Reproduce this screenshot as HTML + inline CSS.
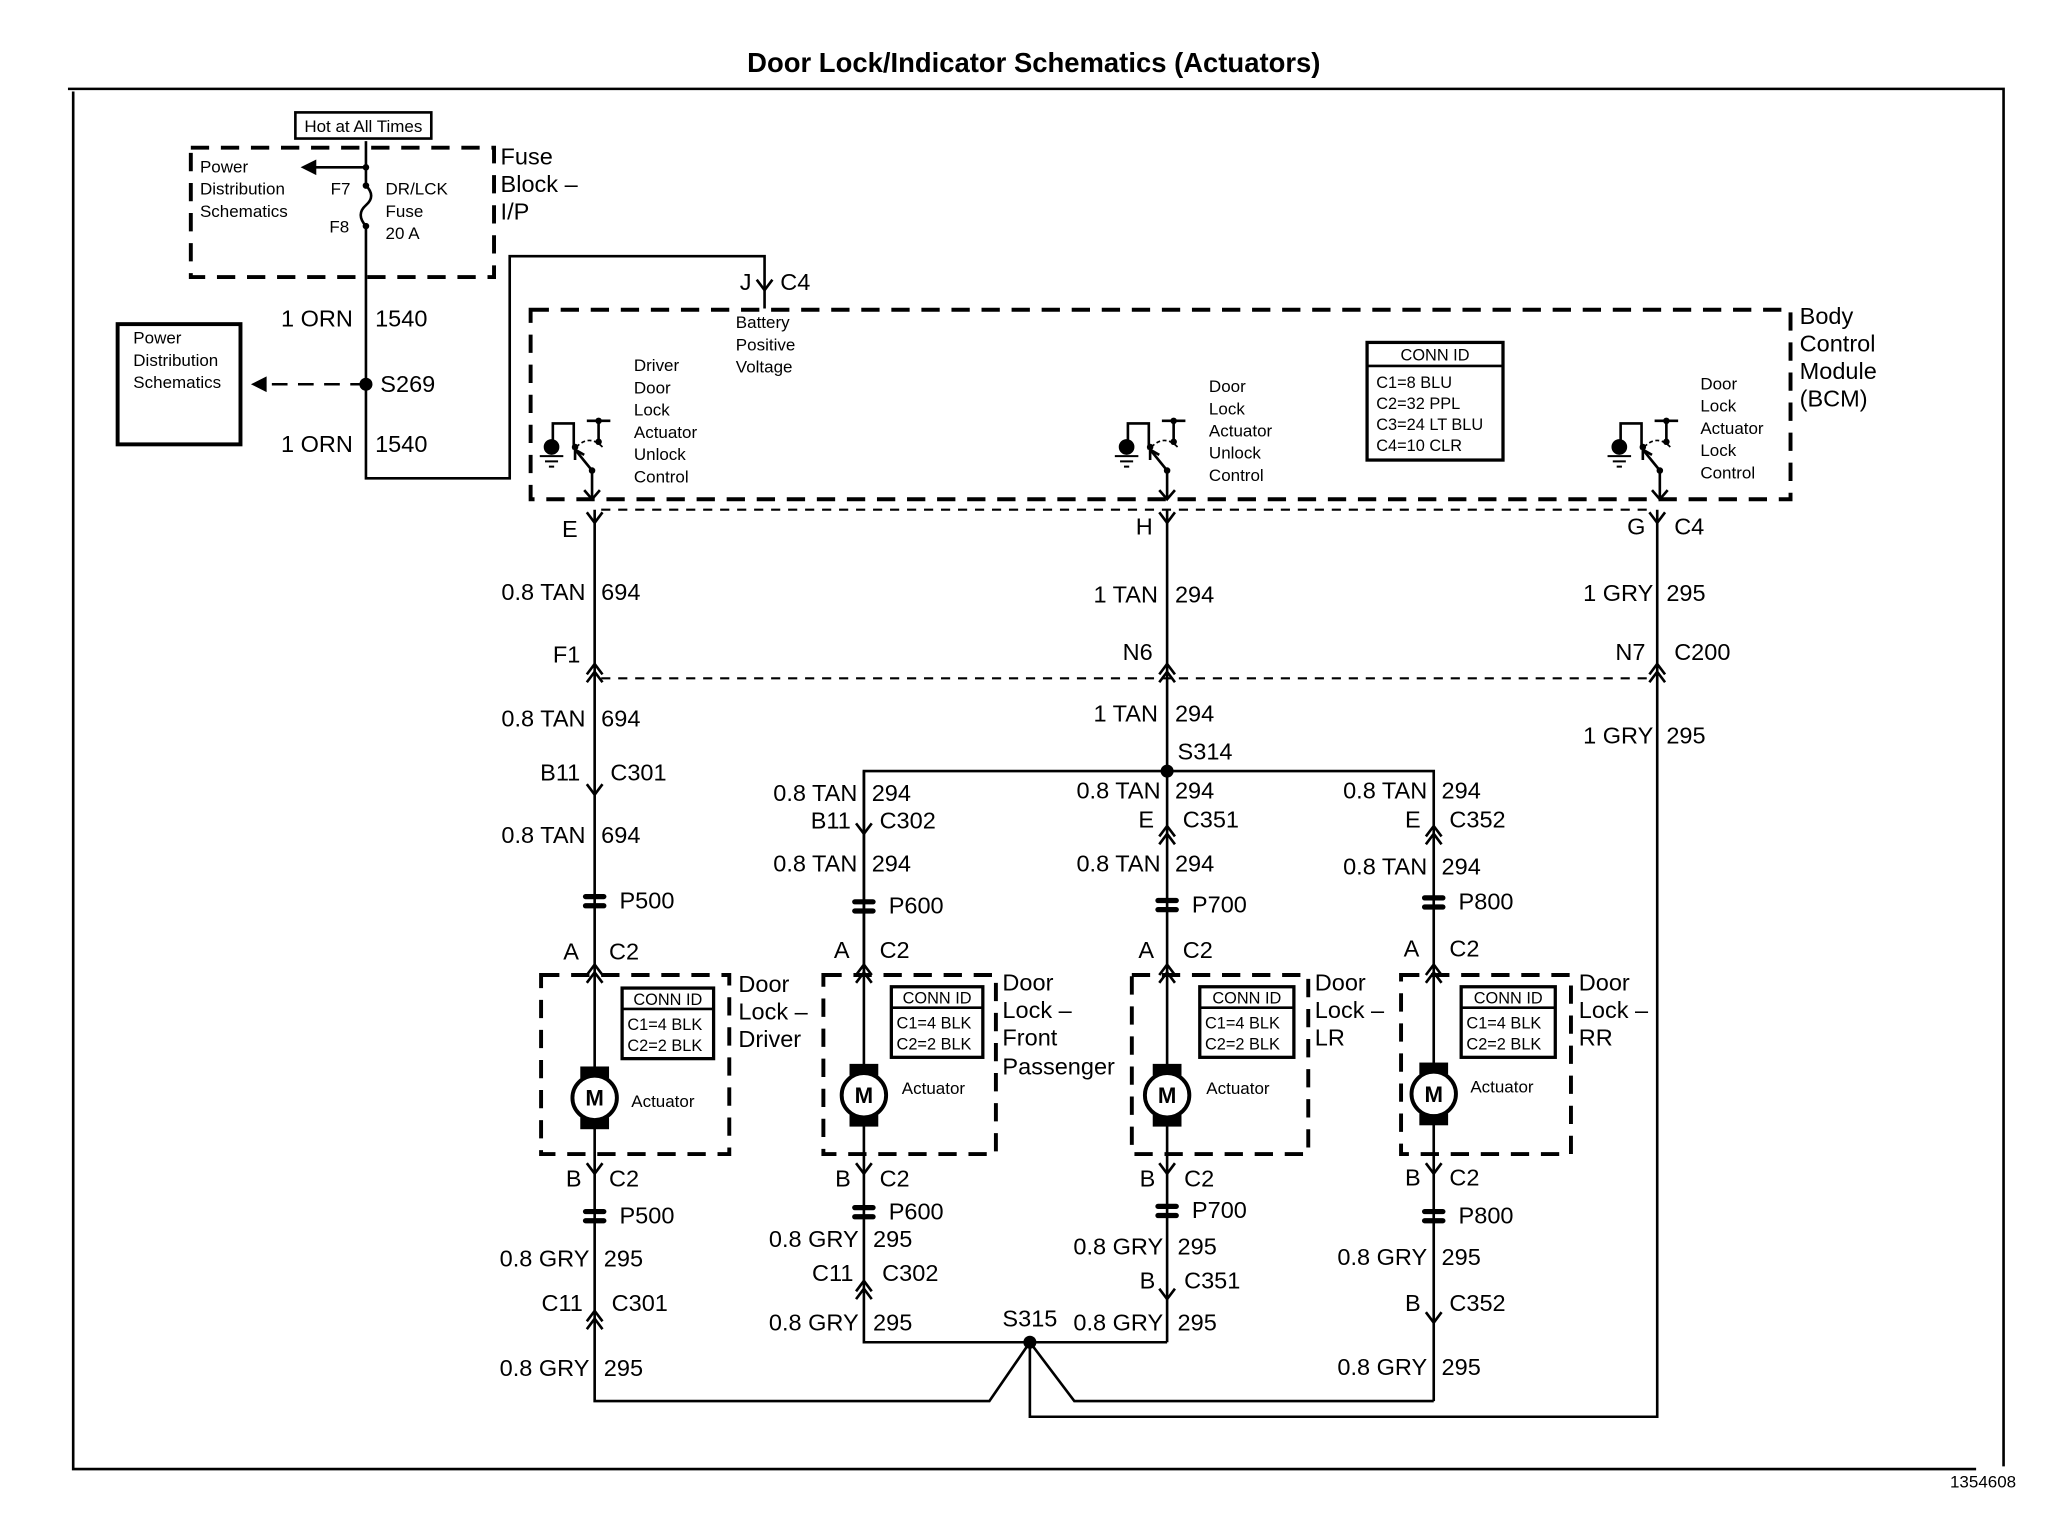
<!DOCTYPE html>
<html><head><meta charset="utf-8"><style>
html,body{margin:0;padding:0;background:#fff;}
svg{display:block;}
text{font-family:"Liberation Sans",Arial,sans-serif;fill:#000;}
.l{font-size:18px;}
.s{font-size:13px;}
.c{font-size:12.5px;}
.w{stroke:#000;stroke-width:2;fill:none;}
.d{stroke:#000;stroke-width:3;fill:none;stroke-dasharray:14 9;}
.dd{stroke:#000;stroke-width:1.6;fill:none;stroke-dasharray:7 6;}
</style></head><body>
<svg width="2048" height="1520" viewBox="0 0 1567 1163" preserveAspectRatio="none" xmlns="http://www.w3.org/2000/svg">
<defs>
<g id="fem"><path d="M-6,-6 L0,2 L6,-6" class="w"/></g>
<g id="male"><path d="M-6,6 L0,-2 L6,6 M-6,12 L0,4 L6,12" class="w"/></g>
<g id="pp"><rect x="-9" y="-5" width="18" height="4" rx="2" fill="#000"/><rect x="-9" y="2" width="18" height="4" rx="2" fill="#000"/></g>
<g id="motor"><rect x="-11" y="-24" width="22" height="9" fill="#000"/><rect x="-11" y="15" width="22" height="9" fill="#000"/><circle r="17" fill="#fff" stroke="#000" stroke-width="3"/><text x="0" y="6" text-anchor="middle" style="font-size:17px;font-weight:bold">M</text></g>
<g id="sw"><path d="M-30,-45 L-30,-58 L-14,-58 L-14,-38" class="w"/><circle cx="-31" cy="-40" r="6" fill="#000"/><path d="M-40,-33 L-22,-33 M-36,-29 L-26,-29 M-33,-25 L-29,-25" stroke="#000" stroke-width="1.5"/><circle cx="-13" cy="-40" r="2.5" fill="#000"/><path d="M-12,-40 Q-2,-50 8,-40" stroke="#000" stroke-width="1.3" fill="none" stroke-dasharray="3 2"/><path d="M-4,-60 L14,-60 M5,-60 L5,-44" class="w"/><circle cx="5" cy="-60" r="2.5" fill="#000"/><circle cx="5" cy="-44" r="2.5" fill="#000"/><path d="M0,-22 L-13,-38" class="w"/><path d="M-13,-38 L-13,-30 M-13,-38 L-6,-34" class="w"/><circle cx="0" cy="-22" r="2.5" fill="#000"/><path d="M0,-22 L0,0 M-6,-7 L0,0 L6,-7" class="w"/></g>
</defs>

<text x="791" y="55" text-anchor="middle" style="font-size:21px;font-weight:bold">Door Lock/Indicator Schematics (Actuators)</text>
<path d="M52,68 L1533,68 L1533,1122 M56,70 L56,1124 L1512,1124" stroke="#000" stroke-width="2" fill="none"/>
<text x="1492" y="1138" class="s">1354608</text>

<rect x="226" y="86" width="104" height="20" class="w"/>
<text x="278" y="101" text-anchor="middle" class="s">Hot at All Times</text>
<rect x="146" y="113" width="232" height="99" class="d"/>
<text x="383" y="126" class="l">Fuse</text><text x="383" y="147" class="l">Block –</text><text x="383" y="168" class="l">I/P</text>
<text x="153" y="132" class="s">Power</text><text x="153" y="149" class="s">Distribution</text><text x="153" y="166" class="s">Schematics</text>
<path d="M280,108 L280,140 M280,128 L236,128" class="w"/><path d="M230,128 L242,122 L242,134 Z" fill="#000"/>
<circle cx="280" cy="128" r="2.5" fill="#000"/><circle cx="280" cy="142" r="2.5" fill="#000"/><circle cx="280" cy="173" r="2.5" fill="#000"/>
<path d="M280,142 Q288,150 280,157 Q272,164 280,173 L280,366 L390,366 L390,196 L585,196 L585,236" class="w"/>
<text x="253" y="149" class="s">F7</text><text x="252" y="178" class="s">F8</text>
<text x="295" y="149" class="s">DR/LCK</text><text x="295" y="166" class="s">Fuse</text><text x="295" y="183" class="s">20 A</text>
<rect x="90" y="248" width="94" height="92" stroke="#000" stroke-width="3" fill="none"/>
<text x="102" y="263" class="s">Power</text><text x="102" y="280" class="s">Distribution</text><text x="102" y="297" class="s">Schematics</text>
<path d="M280,294 L205,294" stroke="#000" stroke-width="2" stroke-dasharray="12 8"/><path d="M192,294 L204,288 L204,300 Z" fill="#000"/>
<circle cx="280" cy="294" r="5" fill="#000"/>
<text x="270" y="250" text-anchor="end" class="l">1 ORN</text><text x="287" y="250" class="l">1540</text>
<text x="291" y="300" class="l">S269</text>
<text x="270" y="346" text-anchor="end" class="l">1 ORN</text><text x="287" y="346" class="l">1540</text>

<use href="#fem" x="585" y="220"/>
<text x="575" y="222" text-anchor="end" class="l">J</text><text x="597" y="222" class="l">C4</text>
<text x="563" y="251" class="s">Battery</text><text x="563" y="268" class="s">Positive</text><text x="563" y="285" class="s">Voltage</text>

<rect x="406" y="237" width="964" height="145" class="d"/>
<text x="1377" y="248" class="l">Body</text><text x="1377" y="269" class="l">Control</text><text x="1377" y="290" class="l">Module</text><text x="1377" y="311" class="l">(BCM)</text>
<rect x="1046" y="262" width="104" height="90" stroke="#000" stroke-width="2.5" fill="none"/>
<path d="M1046,280 L1150,280" class="w"/>
<text x="1098" y="276" text-anchor="middle" class="c">CONN ID</text>
<text x="1053" y="297" class="c">C1=8 BLU</text><text x="1053" y="313" class="c">C2=32 PPL</text><text x="1053" y="329" class="c">C3=24 LT BLU</text><text x="1053" y="345" class="c">C4=10 CLR</text>

<use href="#sw" x="453" y="382"/>
<text x="485" y="284" class="s">Driver</text><text x="485" y="301" class="s">Door</text><text x="485" y="318" class="s">Lock</text><text x="485" y="335" class="s">Actuator</text><text x="485" y="352" class="s">Unlock</text><text x="485" y="369" class="s">Control</text>
<use href="#sw" x="893" y="382"/>
<text x="925" y="300" class="s">Door</text><text x="925" y="317" class="s">Lock</text><text x="925" y="334" class="s">Actuator</text><text x="925" y="351" class="s">Unlock</text><text x="925" y="368" class="s">Control</text>
<use href="#sw" x="1270" y="382"/>
<text x="1301" y="298" class="s">Door</text><text x="1301" y="315" class="s">Lock</text><text x="1301" y="332" class="s">Actuator</text><text x="1301" y="349" class="s">Lock</text><text x="1301" y="366" class="s">Control</text>

<path d="M460,390 L1264,390" class="dd"/>
<path d="M460,519 L1264,519" class="dd"/>

<path d="M455,390 L455,1072 L757,1072 L788,1027 L822,1072 L1097,1072" class="w"/>
<path d="M893,390 L893,590 M661,883 L661,590 L1097,590 L1097,1072 M893,590 L893,1027 M661,883 L661,1027 L893,1027 M788,1027 L788,1084 L1268,1084 L1268,390" class="w"/>
<path d="M661,590 L661,745" class="w"/>
<circle cx="893" cy="590" r="5" fill="#000"/><circle cx="788" cy="1027" r="5" fill="#000"/>

<use href="#fem" x="455" y="398"/><use href="#fem" x="893" y="398"/><use href="#fem" x="1268" y="398"/>
<text x="442" y="411" text-anchor="end" class="l">E</text>
<text x="882" y="409" text-anchor="end" class="l">H</text>
<text x="1259" y="409" text-anchor="end" class="l">G</text><text x="1281" y="409" class="l">C4</text>
<use href="#male" x="455" y="510"/><use href="#male" x="893" y="510"/><use href="#male" x="1268" y="510"/>
<text x="444" y="507" text-anchor="end" class="l">F1</text>
<text x="882" y="505" text-anchor="end" class="l">N6</text>
<text x="1259" y="505" text-anchor="end" class="l">N7</text><text x="1281" y="505" class="l">C200</text>

<text x="448" y="459" text-anchor="end" class="l">0.8 TAN</text><text x="460" y="459" class="l">694</text>
<text x="886" y="461" text-anchor="end" class="l">1 TAN</text><text x="899" y="461" class="l">294</text>
<text x="1265" y="460" text-anchor="end" class="l">1 GRY</text><text x="1275" y="460" class="l">295</text>
<text x="448" y="556" text-anchor="end" class="l">0.8 TAN</text><text x="460" y="556" class="l">694</text>
<text x="886" y="552" text-anchor="end" class="l">1 TAN</text><text x="899" y="552" class="l">294</text>
<text x="1265" y="569" text-anchor="end" class="l">1 GRY</text><text x="1275" y="569" class="l">295</text>
<text x="901" y="581" class="l">S314</text>

<use href="#fem" x="455" y="606"/>
<text x="444" y="597" text-anchor="end" class="l">B11</text><text x="467" y="597" class="l">C301</text>
<text x="448" y="645" text-anchor="end" class="l">0.8 TAN</text><text x="460" y="645" class="l">694</text>
<use href="#pp" x="455" y="689"/><text x="474" y="695" class="l">P500</text>
<use href="#male" x="455" y="740"/>
<text x="443" y="734" text-anchor="end" class="l">A</text><text x="466" y="734" class="l">C2</text>
<rect x="414" y="746" width="144" height="137" class="d"/>
<use href="#motor" x="455" y="840"/><text x="483" y="847" class="s">Actuator</text>
<text x="565" y="759" class="l">Door</text><text x="565" y="780" class="l">Lock –</text><text x="565" y="801" class="l">Driver</text>
<use href="#fem" x="455" y="896"/>
<text x="445" y="908" text-anchor="end" class="l">B</text><text x="466" y="908" class="l">C2</text>
<use href="#pp" x="455" y="930"/><text x="474" y="936" class="l">P500</text>
<text x="451" y="969" text-anchor="end" class="l">0.8 GRY</text><text x="462" y="969" class="l">295</text>
<use href="#male" x="455" y="1005"/>
<text x="446" y="1003" text-anchor="end" class="l">C11</text><text x="468" y="1003" class="l">C301</text>
<text x="451" y="1053" text-anchor="end" class="l">0.8 GRY</text><text x="462" y="1053" class="l">295</text>

<text x="656" y="613" text-anchor="end" class="l">0.8 TAN</text><text x="667" y="613" class="l">294</text>
<use href="#fem" x="661" y="636"/>
<text x="651" y="634" text-anchor="end" class="l">B11</text><text x="673" y="634" class="l">C302</text>
<text x="656" y="667" text-anchor="end" class="l">0.8 TAN</text><text x="667" y="667" class="l">294</text>
<use href="#pp" x="661" y="693"/><text x="680" y="699" class="l">P600</text>
<use href="#male" x="661" y="740"/>
<text x="650" y="733" text-anchor="end" class="l">A</text><text x="673" y="733" class="l">C2</text>
<rect x="630" y="746" width="132" height="137" class="d"/>
<use href="#motor" x="661" y="838"/><text x="690" y="837" class="s">Actuator</text>
<text x="767" y="758" class="l">Door</text><text x="767" y="779" class="l">Lock –</text><text x="767" y="800" class="l">Front</text><text x="767" y="822" class="l">Passenger</text>
<use href="#fem" x="661" y="896"/>
<text x="651" y="908" text-anchor="end" class="l">B</text><text x="673" y="908" class="l">C2</text>
<use href="#pp" x="661" y="927"/><text x="680" y="933" class="l">P600</text>
<text x="657" y="954" text-anchor="end" class="l">0.8 GRY</text><text x="668" y="954" class="l">295</text>
<use href="#male" x="661" y="982"/>
<text x="653" y="980" text-anchor="end" class="l">C11</text><text x="675" y="980" class="l">C302</text>
<text x="657" y="1018" text-anchor="end" class="l">0.8 GRY</text><text x="668" y="1018" class="l">295</text>

<text x="888" y="611" text-anchor="end" class="l">0.8 TAN</text><text x="899" y="611" class="l">294</text>
<use href="#male" x="893" y="634"/>
<text x="883" y="633" text-anchor="end" class="l">E</text><text x="905" y="633" class="l">C351</text>
<text x="888" y="667" text-anchor="end" class="l">0.8 TAN</text><text x="899" y="667" class="l">294</text>
<use href="#pp" x="893" y="692"/><text x="912" y="698" class="l">P700</text>
<use href="#male" x="893" y="740"/>
<text x="883" y="733" text-anchor="end" class="l">A</text><text x="905" y="733" class="l">C2</text>
<rect x="866" y="746" width="135" height="137" class="d"/>
<use href="#motor" x="893" y="838"/><text x="923" y="837" class="s">Actuator</text>
<text x="1006" y="758" class="l">Door</text><text x="1006" y="779" class="l">Lock –</text><text x="1006" y="800" class="l">LR</text>
<use href="#fem" x="893" y="896"/>
<text x="884" y="908" text-anchor="end" class="l">B</text><text x="906" y="908" class="l">C2</text>
<use href="#pp" x="893" y="926"/><text x="912" y="932" class="l">P700</text>
<text x="890" y="960" text-anchor="end" class="l">0.8 GRY</text><text x="901" y="960" class="l">295</text>
<use href="#fem" x="893" y="992"/>
<text x="884" y="986" text-anchor="end" class="l">B</text><text x="906" y="986" class="l">C351</text>
<text x="767" y="1015" class="l">S315</text>
<text x="890" y="1018" text-anchor="end" class="l">0.8 GRY</text><text x="901" y="1018" class="l">295</text>

<text x="1092" y="611" text-anchor="end" class="l">0.8 TAN</text><text x="1103" y="611" class="l">294</text>
<use href="#male" x="1097" y="634"/>
<text x="1087" y="633" text-anchor="end" class="l">E</text><text x="1109" y="633" class="l">C352</text>
<text x="1092" y="669" text-anchor="end" class="l">0.8 TAN</text><text x="1103" y="669" class="l">294</text>
<use href="#pp" x="1097" y="690"/><text x="1116" y="696" class="l">P800</text>
<use href="#male" x="1097" y="740"/>
<text x="1086" y="732" text-anchor="end" class="l">A</text><text x="1109" y="732" class="l">C2</text>
<rect x="1072" y="746" width="130" height="137" class="d"/>
<use href="#motor" x="1097" y="837"/><text x="1125" y="836" class="s">Actuator</text>
<text x="1208" y="758" class="l">Door</text><text x="1208" y="779" class="l">Lock –</text><text x="1208" y="800" class="l">RR</text>
<use href="#fem" x="1097" y="896"/>
<text x="1087" y="907" text-anchor="end" class="l">B</text><text x="1109" y="907" class="l">C2</text>
<use href="#pp" x="1097" y="930"/><text x="1116" y="936" class="l">P800</text>
<text x="1092" y="968" text-anchor="end" class="l">0.8 GRY</text><text x="1103" y="968" class="l">295</text>
<use href="#fem" x="1097" y="1010"/>
<text x="1087" y="1003" text-anchor="end" class="l">B</text><text x="1109" y="1003" class="l">C352</text>
<text x="1092" y="1052" text-anchor="end" class="l">0.8 GRY</text><text x="1103" y="1052" class="l">295</text>

<g>
<rect x="476" y="756" width="70" height="54" stroke="#000" stroke-width="2.5" fill="#fff"/><path d="M476,772 L546,772" class="w"/>
<text x="511" y="769" text-anchor="middle" class="c">CONN ID</text><text x="480" y="788" class="c">C1=4 BLK</text><text x="480" y="804" class="c">C2=2 BLK</text>
<rect x="682" y="755" width="70" height="54" stroke="#000" stroke-width="2.5" fill="#fff"/><path d="M682,771 L752,771" class="w"/>
<text x="717" y="768" text-anchor="middle" class="c">CONN ID</text><text x="686" y="787" class="c">C1=4 BLK</text><text x="686" y="803" class="c">C2=2 BLK</text>
<rect x="918" y="755" width="72" height="54" stroke="#000" stroke-width="2.5" fill="#fff"/><path d="M918,771 L990,771" class="w"/>
<text x="954" y="768" text-anchor="middle" class="c">CONN ID</text><text x="922" y="787" class="c">C1=4 BLK</text><text x="922" y="803" class="c">C2=2 BLK</text>
<rect x="1118" y="755" width="72" height="54" stroke="#000" stroke-width="2.5" fill="#fff"/><path d="M1118,771 L1190,771" class="w"/>
<text x="1154" y="768" text-anchor="middle" class="c">CONN ID</text><text x="1122" y="787" class="c">C1=4 BLK</text><text x="1122" y="803" class="c">C2=2 BLK</text>
</g>
</svg>
</body></html>
